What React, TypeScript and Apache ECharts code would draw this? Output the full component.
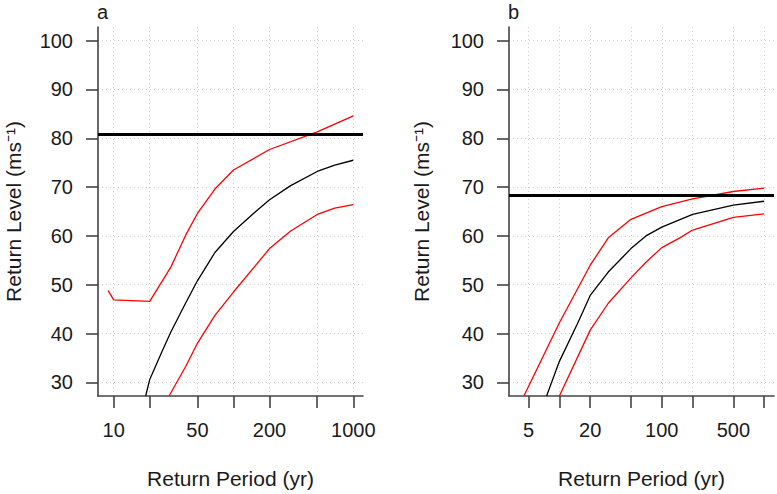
import React, { useEffect, useRef } from "react";
import * as echarts from "echarts";

// ---- tick definitions ----
const A_TICKS = [10, 20, 50, 100, 200, 500, 1000];
const A_LABELS = [10, 50, 200, 1000];
const B_TICKS = [5, 10, 20, 50, 100, 200, 500, 1000];
const B_LABELS = [5, 20, 100, 500];
const Y_TICKS = [30, 40, 50, 60, 70, 80, 90, 100];

// ---- panel a ----
const aFitPeriod = [18.5, 20, 25, 30, 40, 50, 70, 100, 150, 200, 300, 500, 700, 1000];
const aFitLevel = [27.2, 30.6, 36.0, 40.3, 46.3, 50.8, 56.6, 60.9, 64.8, 67.4, 70.3, 73.2, 74.5, 75.5];
const aUpperPeriod = [9, 10, 20, 30, 40, 50, 70, 100, 200, 500, 1000];
const aUpperLevel = [48.8, 46.9, 46.6, 53.6, 60.2, 64.6, 69.6, 73.5, 77.7, 81.3, 84.6];
const aLowerPeriod = [29, 40, 50, 70, 100, 150, 200, 300, 500, 700, 1000];
const aLowerLevel = [27.2, 33.3, 38.0, 43.7, 48.5, 53.7, 57.4, 61.0, 64.4, 65.7, 66.4];
const aThreshold = 80.9;

// ---- panel b ----
const bFitPeriod = [7.5, 10, 15, 20, 30, 50, 70, 100, 200, 500, 1000];
const bFitLevel = [27.2, 34.3, 42.0, 47.8, 52.6, 57.4, 60.0, 61.8, 64.4, 66.3, 67.1];
const bUpperPeriod = [4.5, 10, 20, 30, 50, 100, 200, 500, 1000];
const bUpperLevel = [27.2, 42.2, 54.0, 59.6, 63.4, 66.0, 67.6, 69.1, 69.8];
const bLowerPeriod = [10, 20, 30, 50, 70, 100, 150, 200, 500, 1000];
const bLowerLevel = [27.2, 40.7, 46.2, 51.4, 54.6, 57.6, 59.6, 61.2, 63.8, 64.5];
const bThreshold = 68.4;

const FONT = "Liberation Sans";
const AXIS_COLOR = "#444";
const TEXT_COLOR = "#1a1a1a";

const zip = (xs: number[], ys: number[]) => xs.map((x, i) => [x, ys[i]]);

function xAxis(gridIndex: number, min: number, max: number, ticks: number[], labels: number[]) {
  return {
    type: "log",
    logBase: 10,
    gridIndex,
    min,
    max,
    name: "Return Period (yr)",
    nameLocation: "middle",
    nameGap: 72,
    nameTextStyle: { fontFamily: FONT, fontSize: 21, color: TEXT_COLOR },
    axisLine: { show: true, onZero: false, lineStyle: { color: AXIS_COLOR, width: 1.6 } },
    axisTick: { show: true, length: 12, customValues: ticks, lineStyle: { color: AXIS_COLOR, width: 1.6 } },
    axisLabel: {
      customValues: labels,
      margin: 24,
      fontFamily: FONT,
      fontSize: 20,
      color: TEXT_COLOR,
      formatter: (v: number) => String(Math.round(v)),
    },
    splitLine: { show: true, lineStyle: { color: "#cfcfcf", type: [1, 3], width: 1 } },
    minorTick: { show: false },
  };
}

function yAxis(gridIndex: number, nameGap: number) {
  return {
    type: "value",
    gridIndex,
    min: 27.2,
    max: 102.8,
    name: "Return Level (ms⁻¹)",
    nameLocation: "middle",
    nameGap,
    nameTextStyle: { fontFamily: FONT, fontSize: 21, color: TEXT_COLOR },
    axisLine: { show: true, lineStyle: { color: AXIS_COLOR, width: 1.6 } },
    axisTick: { show: true, length: 12, customValues: Y_TICKS, lineStyle: { color: AXIS_COLOR, width: 1.6 } },
    axisLabel: {
      customValues: Y_TICKS,
      margin: 25,
      fontFamily: FONT,
      fontSize: 20,
      color: TEXT_COLOR,
    },
    splitLine: { show: true, lineStyle: { color: "#cfcfcf", type: [1, 3], width: 1 } },
  };
}

function lineSeries(idx: number, data: number[][], color: string, extra: any = {}) {
  return {
    type: "line",
    xAxisIndex: idx,
    yAxisIndex: idx,
    data,
    showSymbol: false,
    symbol: "none",
    smooth: false,
    clip: true,
    lineStyle: { color, width: 1.3 },
    silent: true,
    ...extra,
  };
}

function thresholdMark(value: number) {
  return {
    markLine: {
      silent: true,
      symbol: "none",
      label: { show: false },
      lineStyle: { color: "#000", width: 3, type: "solid" },
      data: [{ yAxis: value }],
    },
  };
}

export default function App() {
  const ref = useRef<HTMLDivElement>(null);
  useEffect(() => {
    if (!ref.current) return;
    const chart = echarts.init(ref.current, null, { renderer: "svg" });
    chart.setOption({
      animation: false,
      backgroundColor: "#fff",
      title: [
        { text: "a", left: 97, top: 2, padding: 0, textStyle: { fontFamily: FONT, fontSize: 20, fontWeight: "normal", color: TEXT_COLOR } },
        { text: "b", left: 508, top: 2, padding: 0, textStyle: { fontFamily: FONT, fontSize: 20, fontWeight: "normal", color: TEXT_COLOR } },
      ],
      grid: [
        { left: 98, top: 27, width: 265, height: 370 },
        { left: 509, top: 27, width: 265, height: 370 },
      ],
      xAxis: [
        xAxis(0, 7.4, 1205, A_TICKS, A_LABELS),
        xAxis(1, 3.22, 1247, B_TICKS, B_LABELS),
      ],
      yAxis: [yAxis(0, 74), yAxis(1, 77)],
      series: [
        lineSeries(0, zip(aUpperPeriod, aUpperLevel), "#ff0000", thresholdMark(aThreshold)),
        lineSeries(0, zip(aLowerPeriod, aLowerLevel), "#ff0000"),
        lineSeries(0, zip(aFitPeriod, aFitLevel), "#000000"),
        lineSeries(1, zip(bUpperPeriod, bUpperLevel), "#ff0000", thresholdMark(bThreshold)),
        lineSeries(1, zip(bLowerPeriod, bLowerLevel), "#ff0000"),
        lineSeries(1, zip(bFitPeriod, bFitLevel), "#000000"),
      ],
    });
    return () => chart.dispose();
  }, []);
  return (
    <div
      ref={ref}
      style={{ position: "absolute", left: 0, top: 0, width: 777, height: 494 }}
    />
  );
}
